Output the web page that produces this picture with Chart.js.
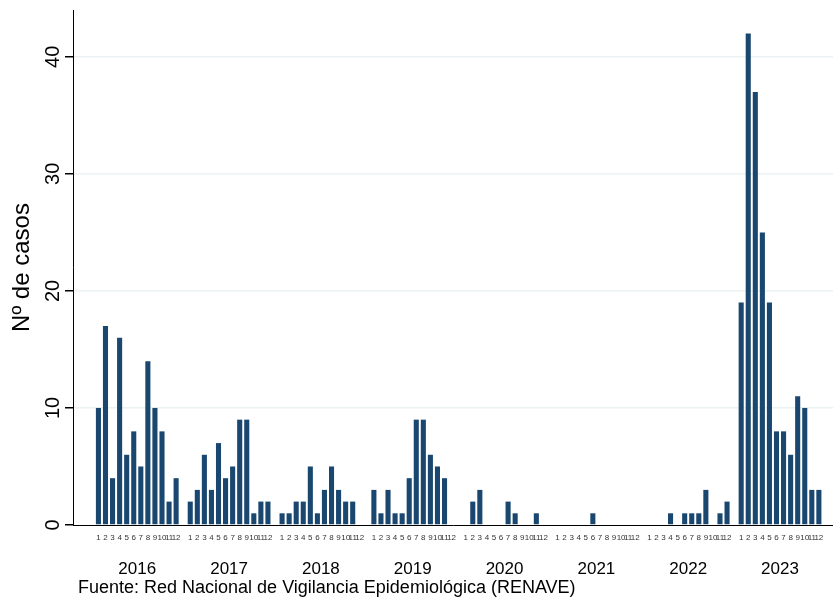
<!DOCTYPE html>
<html>
<head>
<meta charset="utf-8">
<script src="https://cdn.jsdelivr.net/npm/chart.js@4/dist/chart.umd.min.js"></script>
<style>
  html,body{margin:0;padding:0;background:#fff;}
  #wrap{position:relative;width:833px;height:600px;}
  #note{position:absolute;left:78px;top:577px;font:18px "Liberation Sans",Arial,sans-serif;color:#000;white-space:nowrap;}
</style>
</head>
<body>
<div id="wrap">
  <canvas id="ch" width="833" height="600"></canvas>
  <div id="note">Fuente: Red Nacional de Vigilancia Epidemiológica (RENAVE)</div>
</div>
<script>
// datos
const years = ['2016','2017','2018','2019','2020','2021','2022','2023'];
const months = ['1','2','3','4','5','6','7','8','9','10','11','12'];
const cases2016 = [10,17,4,16,6,8,5,14,10,8,2,4];
const cases2017 = [2,3,6,3,7,4,5,9,9,1,2,2];
const cases2018 = [1,1,2,2,5,1,3,5,3,2,2,0];
const cases2019 = [3,1,3,1,1,4,9,9,6,5,4,0];
const cases2020 = [0,2,3,0,0,0,2,1,0,0,1,0];
const cases2021 = [0,0,0,0,0,1,0,0,0,0,0,0];
const cases2022 = [0,0,0,1,0,1,1,1,3,0,1,2];
const cases2023 = [19,42,37,25,19,8,8,6,11,10,3,3];
const yTicks = [0,10,20,30,40];

const byYear = [cases2016,cases2017,cases2018,cases2019,cases2020,cases2021,cases2022,cases2023];
const SLOT = 13; // 12 meses + hueco

const points = [];
const monthPos = [];
byYear.forEach((arr,i)=> arr.forEach((v,j)=>{
  const x = i*SLOT + j + 1;
  points.push({x:x, y:v});
  monthPos.push(x);
}));
const yearPos = years.map((_,i)=> i*SLOT + 6.5);

const FONT = '"Liberation Sans", Arial, sans-serif';
const XMIN = -2.6, XMAX = 105;

new Chart(document.getElementById('ch'), {
  type:'bar',
  data:{ datasets:[{ data:points, backgroundColor:'#1a476f', borderWidth:0, barPercentage:0.9, categoryPercentage:0.8 }] },
  options:{
    responsive:false, animation:false,
    layout:{ padding:{ top:10, right:0, bottom:21, left:0 } },
    plugins:{ legend:{ display:false }, tooltip:{ enabled:false } },
    scales:{
      x:{
        type:'linear', min:XMIN, max:XMAX, offset:false, weight:0,
        grid:{ display:false, drawTicks:false },
        border:{ display:true, color:'#000', width:1 },
        afterBuildTicks: s=>{ s.ticks = monthPos.map(v=>({value:v})); },
        afterFit: s=>{ s.height = 24; s.paddingLeft = 0; s.paddingRight = 0; },
        ticks:{ autoSkip:false, minRotation:0, maxRotation:0, padding:8, color:'#333',
          font:{ family:FONT, size:8 },
          callback:(v,i)=> months[i%12] }
      },
      x2:{
        type:'linear', min:XMIN, max:XMAX, offset:false, position:'bottom', weight:1,
        grid:{ display:false, drawTicks:false }, border:{ display:false },
        afterBuildTicks: s=>{ s.ticks = yearPos.map(v=>({value:v})); },
        afterFit: s=>{ s.height = 30; s.paddingLeft = 0; s.paddingRight = 0; },
        ticks:{ autoSkip:false, minRotation:0, maxRotation:0, padding:10, color:'#000',
          font:{ family:FONT, size:17 },
          callback:(v,i)=> years[i] }
      },
      y:{
        min:0, max:44,
        afterBuildTicks: s=>{ s.ticks = yTicks.map(v=>({value:v})); },
        afterFit: s=>{ s.width = 73; s.paddingTop = 0; s.paddingBottom = 0; },
        border:{ display:true, color:'#000', width:1 },
        grid:{ color: c=> c.tick && c.tick.value===0 ? 'rgba(0,0,0,0)' : '#eaf2f3', lineWidth:1.5,
          tickColor:'#000', tickLength:8, drawTicks:true },
        ticks:{ minRotation:90, maxRotation:90, crossAlign:'center', padding:0, color:'#000',
          font:{ family:FONT, size:20 } },
        title:{ display:true, text:'Nº de casos', color:'#000', padding:{top:8,bottom:0},
          font:{ family:FONT, size:24 } }
      }
    }
  }
});
</script>
</body>
</html>
